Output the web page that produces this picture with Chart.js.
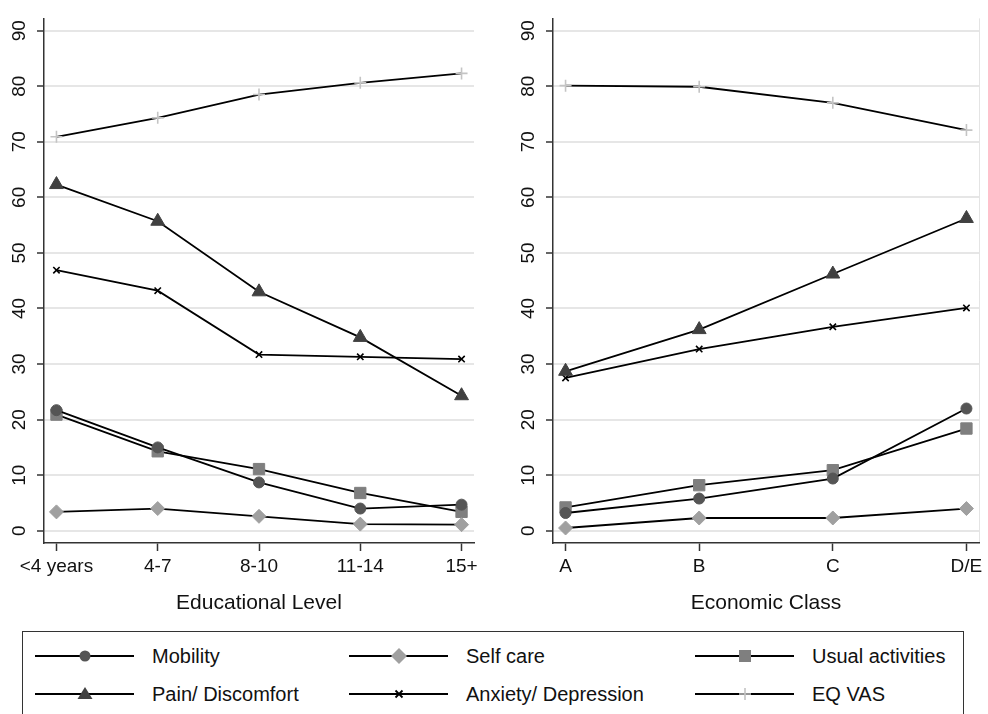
<!DOCTYPE html>
<html>
<head>
<meta charset="utf-8">
<script src="https://cdn.jsdelivr.net/npm/chart.js@4/dist/chart.umd.min.js"></script>
<style>
  body { margin: 0; width: 988px; height: 714px; overflow: hidden; background: #fff; position: relative;
         font-family: "Liberation Sans", Arial, sans-serif; }
  canvas { position: absolute; top: 0; }
  #legend { position: absolute; left: 22px; top: 631px; width: 942px; height: 110px;
            border: 1.5px solid #333; box-sizing: border-box; }
  .item { position: absolute; height: 24px; display: flex; align-items: center; font-size: 20px; color: #111; }
  .item svg { margin-right: 18px; }
</style>
</head>
<body>
<canvas id="eduChart" width="490" height="620" style="left:0"></canvas>
<canvas id="ecoChart" width="498" height="620" style="left:490px"></canvas>
<div id="legend"></div>
<script>
const eduLabels = ['<4 years', '4-7', '8-10', '11-14', '15+'];
const ecoLabels = ['A', 'B', 'C', 'D/E'];
const seriesNames = ['Mobility', 'Self care', 'Usual activities', 'Pain/ Discomfort', 'Anxiety/ Depression', 'EQ VAS'];
const yTicks = [0, 10, 20, 30, 40, 50, 60, 70, 80, 90];

// Educational level
const eduMobility = [21.7, 15.0, 8.7, 4.0, 4.7];
const eduSelfCare = [3.4, 4.0, 2.6, 1.2, 1.1];
const eduUsual = [20.9, 14.3, 11.1, 6.8, 3.4];
const eduPain = [62.3, 55.7, 43.0, 34.8, 24.3];
const eduAnxiety = [46.9, 43.2, 31.7, 31.3, 30.9];
const eduVas = [70.9, 74.3, 78.5, 80.6, 82.3];

// Economic class
const ecoMobility = [3.2, 5.8, 9.4, 22.0];
const ecoSelfCare = [0.5, 2.3, 2.3, 4.0];
const ecoUsual = [4.2, 8.2, 10.9, 18.4];
const ecoPain = [28.7, 36.2, 46.2, 56.2];
const ecoAnxiety = [27.5, 32.7, 36.7, 40.1];
const ecoVas = [80.1, 79.9, 77.0, 72.1];

const markers = [
    { style: 'circle', color: '#555555', radius: 5.5 },
    { style: 'rectRot', color: '#a0a0a0', radius: 7 },
    { style: 'rect', color: '#7f7f7f', radius: 8 },
    { style: 'triangle', color: '#404040', radius: 8 },
    { style: 'crossRot', color: '#000000', radius: 4.5 },
    { style: 'cross', color: '#c4c4c4', radius: 6 }
];

const fontFamily = '"Liberation Sans", Arial, sans-serif';

function makeDatasets(seriesList) {
    return seriesList.map((vals, k) => ({
        label: seriesNames[k],
        data: vals.map((v, i) => ({ x: i, y: v })),
        borderColor: '#000',
        borderWidth: 1.8,
        pointStyle: markers[k].style,
        pointRadius: markers[k].radius,
        pointBackgroundColor: markers[k].color,
        pointBorderColor: markers[k].color,
        pointBorderWidth: markers[k].style.startsWith('cross') ? 1.6 : 1,
        tension: 0
    }));
}

function makeChart(id, labels, seriesList, title, yWidth, padRight, xPad, edgeLine) {
    const n = labels.length - 1;
    return new Chart(document.getElementById(id), {
        type: 'line',
        data: { datasets: makeDatasets(seriesList) },
        options: {
            responsive: false,
            animation: false,
            layout: { padding: { top: 16, right: padRight, left: 0, bottom: 0 } },
            plugins: { legend: { display: false }, tooltip: { enabled: false } },
            scales: {
                x: {
                    type: 'linear',
                    min: -xPad,
                    max: n + xPad,
                    afterBuildTicks: s => {
                        s.ticks = labels.map((_, i) => ({ value: i }));
                        if (edgeLine) s.ticks.push({ value: n + xPad });
                    },
                    afterFit: s => { s.height = 77; },
                    ticks: {
                        callback: v => labels[v] !== undefined ? labels[v] : '',
                        autoSkip: false, maxRotation: 0, minRotation: 0,
                        color: '#111', padding: 4,
                        font: { family: fontFamily, size: 19 }
                    },
                    grid: {
                        drawOnChartArea: edgeLine,
                        color: c => c.tick && c.tick.value > n ? '#e4e4e4' : 'rgba(0,0,0,0)',
                        tickColor: c => c.tick && c.tick.value > n ? 'rgba(0,0,0,0)' : '#333',
                        tickLength: 8, tickWidth: 1.5
                    },
                    border: { color: '#333', width: 1.5 },
                    title: {
                        display: true, text: title, color: '#111',
                        font: { family: fontFamily, size: 21 },
                        padding: { top: 2, bottom: 4 }
                    }
                },
                y: {
                    min: -2.2,
                    max: 92.2,
                    afterBuildTicks: s => { s.ticks = yTicks.map(v => ({ value: v })); },
                    afterFit: s => { s.width = yWidth; },
                    ticks: {
                        minRotation: 90, maxRotation: 90,
                        crossAlign: 'center',
                        color: '#111', padding: 7,
                        font: { family: fontFamily, size: 19 }
                    },
                    grid: {
                        color: '#e6e6e6', lineWidth: 2,
                        tickColor: '#333', tickLength: 7, tickWidth: 1.5
                    },
                    border: { color: '#333', width: 1.5 }
                }
            }
        }
    });
}

makeChart('eduChart', eduLabels,
    [eduMobility, eduSelfCare, eduUsual, eduPain, eduAnxiety, eduVas],
    'Educational Level', 44, 16, 0.123, false);

makeChart('ecoChart', ecoLabels,
    [ecoMobility, ecoSelfCare, ecoUsual, ecoPain, ecoAnxiety, ecoVas],
    'Economic Class', 63, 5, 0.094, true);

// legend
function markerSvg(k) {
    const m = markers[k];
    let shape = '';
    if (m.style === 'circle') shape = `<circle cx="50" cy="12" r="5.5" fill="${m.color}"/>`;
    else if (m.style === 'rectRot') shape = `<polygon points="50,4 58,12 50,20 42,12" fill="${m.color}"/>`;
    else if (m.style === 'rect') shape = `<rect x="44" y="6" width="12" height="12" fill="${m.color}"/>`;
    else if (m.style === 'triangle') shape = `<polygon points="50,5 57.5,17 42.5,17" fill="${m.color}"/>`;
    else if (m.style === 'crossRot') shape = `<path d="M46.5,8.5 L53.5,15.5 M53.5,8.5 L46.5,15.5" stroke="${m.color}" stroke-width="1.8"/>`;
    else shape = `<path d="M50,6 L50,18 M44,12 L56,12" stroke="${m.color}" stroke-width="1.6"/>`;
    return `<svg width="99" height="24" viewBox="0 0 99 24"><line x1="0" y1="12" x2="99" y2="12" stroke="#000" stroke-width="2"/>${shape}</svg>`;
}

const legendCols = [12, 326, 672];
const legendRows = [12, 50];
const legend = document.getElementById('legend');
seriesNames.forEach((name, k) => {
    const div = document.createElement('div');
    div.className = 'item';
    div.style.left = legendCols[k % 3] + 'px';
    div.style.top = legendRows[Math.floor(k / 3)] + 'px';
    div.innerHTML = markerSvg(k) + '<span>' + name + '</span>';
    legend.appendChild(div);
});
</script>
</body>
</html>
